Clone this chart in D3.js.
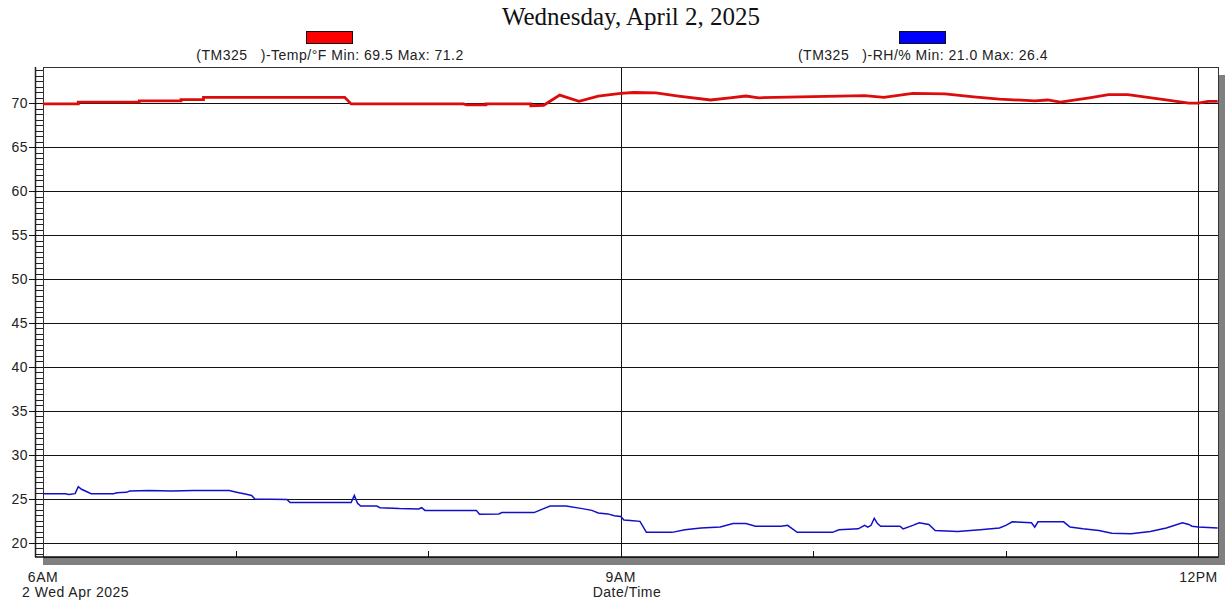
<!DOCTYPE html>
<html>
<head>
<meta charset="utf-8">
<script src="https://cdn.jsdelivr.net/npm/d3@7"></script>
<style>
  body { margin: 0; background: #fff; }
  svg { display: block; }
</style>
</head>
<body>
<div id="chart"></div>
<script>
// readings: [time, value]
const tempSeries = [
  ['06:00', 69.9], ['06:11', 69.9], ['06:11', 70.1], ['06:30', 70.1], ['06:30', 70.25],
  ['06:43', 70.25], ['06:43', 70.4], ['06:50', 70.4], ['06:50', 70.65], ['07:34', 70.65],
  ['07:36', 69.9], ['08:11', 69.9], ['08:12', 69.8], ['08:18', 69.8], ['08:18', 69.9],
  ['08:32', 69.9], ['08:32', 69.7], ['08:36', 69.75], ['08:41', 70.9], ['08:47', 70.2],
  ['08:53', 70.8], ['09:00', 71.1], ['09:04', 71.2], ['09:11', 71.15], ['09:18', 70.8],
  ['09:28', 70.35], ['09:34', 70.6], ['09:39', 70.8], ['09:43', 70.6], ['09:56', 70.7],
  ['10:08', 70.8], ['10:16', 70.85], ['10:22', 70.65], ['10:31', 71.1], ['10:41', 71.05],
  ['10:50', 70.7], ['10:58', 70.45], ['11:09', 70.25], ['11:13', 70.35], ['11:17', 70.1],
  ['11:26', 70.6], ['11:32', 70.95], ['11:38', 70.95], ['11:51', 70.3], ['11:57', 70.0],
  ['12:00', 70.0], ['12:03', 70.2], ['12:06', 70.2],
];

const rhSeries = [
  ['06:00', 25.6], ['06:07', 25.6], ['06:08', 25.5], ['06:10', 25.6], ['06:11', 26.4],
  ['06:12', 26.1], ['06:15', 25.6], ['06:22', 25.6], ['06:23', 25.7], ['06:26', 25.75],
  ['06:27', 25.9], ['06:33', 25.95], ['06:40', 25.9], ['06:47', 25.95], ['06:58', 25.95],
  ['07:01', 25.7], ['07:03', 25.55], ['07:05', 25.4], ['07:06', 25.0], ['07:16', 24.95],
  ['07:17', 24.6], ['07:36', 24.6], ['07:37', 25.4], ['07:38', 24.5], ['07:39', 24.2],
  ['07:44', 24.2], ['07:45', 24.0], ['07:51', 23.9], ['07:57', 23.85], ['07:58', 24.0],
  ['07:59', 23.7], ['08:15', 23.7], ['08:16', 23.25], ['08:22', 23.3], ['08:23', 23.45],
  ['08:33', 23.45], ['08:36', 23.9], ['08:38', 24.2], ['08:43', 24.2], ['08:48', 23.9],
  ['08:51', 23.7], ['08:53', 23.4], ['08:56', 23.3], ['08:58', 23.1], ['09:00', 23.0],
  ['09:01', 22.6], ['09:03', 22.55], ['09:06', 22.45], ['09:08', 21.2], ['09:16', 21.2],
  ['09:20', 21.5], ['09:25', 21.7], ['09:31', 21.8], ['09:35', 22.2], ['09:39', 22.2],
  ['09:42', 21.9], ['09:50', 21.9], ['09:52', 22.0], ['09:55', 21.2], ['10:06', 21.2],
  ['10:08', 21.5], ['10:14', 21.6], ['10:16', 22.0], ['10:17', 21.8], ['10:18', 22.0],
  ['10:19', 22.8], ['10:20', 22.2], ['10:21', 21.9], ['10:27', 21.9], ['10:28', 21.6],
  ['10:31', 22.0], ['10:33', 22.3], ['10:36', 22.1], ['10:38', 21.4], ['10:45', 21.3],
  ['10:52', 21.5], ['10:58', 21.7], ['11:00', 22.0], ['11:02', 22.4], ['11:08', 22.3],
  ['11:09', 21.8], ['11:10', 22.4], ['11:18', 22.4], ['11:20', 21.8], ['11:24', 21.6],
  ['11:29', 21.4], ['11:33', 21.1], ['11:39', 21.05], ['11:45', 21.3], ['11:50', 21.7],
  ['11:55', 22.3], ['11:57', 22.1], ['11:58', 21.9], ['12:00', 21.8], ['12:06', 21.7],
];

const yTicks = [20, 25, 30, 35, 40, 45, 50, 55, 60, 65, 70];
const xMajorTicks = ['06:00', '09:00', '12:00'];
const xMajorLabels = ['6AM', '9AM', '12PM'];
const xMinorTicks = ['07:00', '08:00', '10:00', '11:00'];
const legendLabels = ['(TM325   )-Temp/°F Min: 69.5 Max: 71.2', '(TM325   )-RH/% Min: 21.0 Max: 26.4'];
const legendColors = ['#ff0000', '#0000ff'];
const lineColors = ['#dc0c0c', '#1010c8'];

const width = 1225;
const height = 605;
const plot = { left: 43, right: 1218, top: 67, bottom: 557 };
const ladderW = 8;
const font = '"Liberation Sans", Arial, sans-serif';

const parse = d3.timeParse('%H:%M');
const parseSec = d3.timeParse('%H:%M:%S');

const x = d3.scaleTime()
  .domain([parse('06:00'), parseSec('12:06:06')])
  .range([plot.left, plot.right]);

const y = d3.scaleLinear()
  .domain([18.4, 74.1])
  .range([plot.bottom, plot.top]);

const svg = d3.select('#chart').append('svg')
  .attr('width', width)
  .attr('height', height);

svg.append('rect').attr('width', width).attr('height', height).attr('fill', '#fff');

const label = (sel, size) => sel
  .style('font', `${size}px ${font}`)
  .style('letter-spacing', '0.5px')
  .attr('fill', '#222');

// drop shadow of frame (ladder + plot)
svg.append('rect')
  .attr('x', plot.left - ladderW + 8)
  .attr('y', plot.top + 8)
  .attr('width', plot.right - plot.left + ladderW)
  .attr('height', plot.bottom - plot.top)
  .attr('fill', '#808080');

svg.append('rect')
  .attr('x', plot.left - ladderW)
  .attr('y', plot.top)
  .attr('width', plot.right - plot.left + ladderW)
  .attr('height', plot.bottom - plot.top)
  .attr('fill', '#fff');

// ladder rungs
const rungs = d3.range(18.75, 74.1, 0.625);
svg.append('g').selectAll('line')
  .data(rungs)
  .enter().append('line')
  .attr('x1', plot.left - ladderW)
  .attr('x2', plot.left)
  .attr('y1', d => Math.round(y(d)) + 0.5)
  .attr('y2', d => Math.round(y(d)) + 0.5)
  .attr('stroke', '#222');

svg.append('line')
  .attr('x1', plot.left - ladderW + 0.5).attr('x2', plot.left - ladderW + 0.5)
  .attr('y1', plot.top).attr('y2', plot.bottom)
  .attr('stroke', '#222').attr('stroke-width', 1.5);

// horizontal grid + y ticks
const gy = svg.append('g');
gy.selectAll('.grid')
  .data(yTicks)
  .enter().append('line')
  .attr('class', 'grid')
  .attr('x1', plot.left - ladderW - 6)
  .attr('x2', plot.right)
  .attr('y1', d => Math.round(y(d)) + 0.5)
  .attr('y2', d => Math.round(y(d)) + 0.5)
  .attr('stroke', '#111');

gy.selectAll('text')
  .data(yTicks)
  .enter().append('text')
  .attr('x', plot.left - ladderW - 7)
  .attr('y', d => y(d))
  .attr('dy', '0.35em')
  .attr('text-anchor', 'end')
  .call(label, 14)
  .text(d => d);

// vertical major lines
svg.append('g').selectAll('line')
  .data(xMajorTicks.slice(1))
  .enter().append('line')
  .attr('x1', d => Math.round(x(parse(d))) + 0.5)
  .attr('x2', d => Math.round(x(parse(d))) + 0.5)
  .attr('y1', plot.top)
  .attr('y2', plot.bottom)
  .attr('stroke', '#111');

// minor hour ticks
svg.append('g').selectAll('line')
  .data(xMinorTicks)
  .enter().append('line')
  .attr('x1', d => Math.round(x(parse(d))) + 0.5)
  .attr('x2', d => Math.round(x(parse(d))) + 0.5)
  .attr('y1', plot.bottom - 6)
  .attr('y2', plot.bottom)
  .attr('stroke', '#111');

// frame
svg.append('rect')
  .attr('x', plot.left + 0.5)
  .attr('y', plot.top + 0.5)
  .attr('width', plot.right - plot.left)
  .attr('height', plot.bottom - plot.top)
  .attr('fill', 'none')
  .attr('stroke', '#333');

svg.append('line')
  .attr('x1', plot.left - ladderW).attr('x2', plot.right)
  .attr('y1', plot.bottom).attr('y2', plot.bottom)
  .attr('stroke', '#111').attr('stroke-width', 1.5);

// series
const line = d3.line()
  .x(d => x(parse(d[0])))
  .y(d => y(d[1]));

svg.append('path')
  .datum(rhSeries)
  .attr('d', line)
  .attr('fill', 'none')
  .attr('stroke', lineColors[1])
  .attr('stroke-width', 1.5);

svg.append('path')
  .datum(tempSeries)
  .attr('d', line)
  .attr('fill', 'none')
  .attr('stroke', lineColors[0])
  .attr('stroke-width', 2.8);

// x labels
svg.append('g').selectAll('text')
  .data(xMajorTicks)
  .enter().append('text')
  .attr('x', d => x(parse(d)))
  .attr('y', 582)
  .attr('text-anchor', 'middle')
  .call(label, 14)
  .text((d, i) => xMajorLabels[i]);

svg.append('text')
  .attr('x', 22).attr('y', 597)
  .call(label, 14)
  .text('2 Wed Apr 2025');

svg.append('text')
  .attr('x', 627).attr('y', 597)
  .attr('text-anchor', 'middle')
  .call(label, 14)
  .text('Date/Time');

// title
svg.append('text')
  .attr('x', 631).attr('y', 25)
  .attr('text-anchor', 'middle')
  .style('font', '25px "Liberation Serif", "Times New Roman", serif')
  .attr('fill', '#111')
  .text('Wednesday, April 2, 2025');

// legend
const legendX = [330, 923];
const lg = svg.append('g').selectAll('g')
  .data(legendLabels)
  .enter().append('g')
  .attr('transform', (d, i) => `translate(${legendX[i]},0)`);

lg.append('rect')
  .attr('x', -23.5).attr('y', 31.5)
  .attr('width', 46).attr('height', 12)
  .attr('fill', (d, i) => legendColors[i])
  .attr('stroke', '#111');

lg.append('text')
  .attr('y', 60)
  .attr('text-anchor', 'middle')
  .call(label, 14)
  .style('white-space', 'pre')
  .text(d => d);
</script>
</body>
</html>
